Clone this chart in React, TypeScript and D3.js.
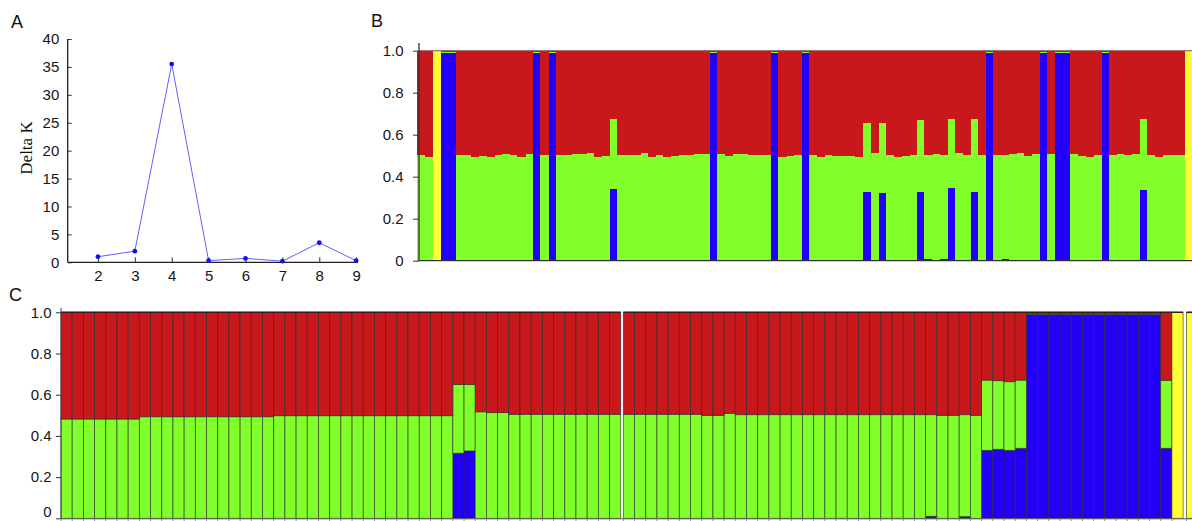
import React, { useEffect, useRef } from 'react';
import * as d3 from 'd3';

// ---- Panel A: Delta K for each K
const kValues = [2, 3, 4, 5, 6, 7, 8, 9];
const deltaK = [1.0, 2.0, 35.5, 0.3, 0.7, 0.2, 3.5, 0.3];
const deltaKTicks = [0, 5, 10, 15, 20, 25, 30, 35, 40];

// ancestry axis ticks (panels B and C)
const shareTicks = [0, 0.2, 0.4, 0.6, 0.8, 1.0];

// clusters, stacked bottom to top
const clusterKeys = ['blue', 'green', 'red', 'yellow'];
const clusterColors: Record<string, string> = {
  blue: '#2300f6',
  green: '#80ff2a',
  red: '#c8181c',
  yellow: '#ffff33',
};

// ---- Panel B: individuals in sample order (red = remainder)
const bBlue = [
  0, 0, 0, 0.99, 0.99, 0, 0, 0, 0, 0,
  0, 0, 0, 0, 0, 0.99, 0, 0.99, 0, 0,
  0, 0, 0, 0, 0, 0.341, 0, 0, 0, 0,
  0, 0, 0, 0, 0, 0, 0, 0, 0.99, 0,
  0, 0, 0, 0, 0, 0, 0.99, 0, 0, 0,
  0.99, 0, 0, 0, 0, 0, 0, 0, 0.329, 0,
  0.321, 0, 0, 0, 0, 0.329, 0.01, 0, 0.01, 0.345,
  0, 0, 0.329, 0, 0.99, 0, 0.01, 0, 0, 0,
  0, 0.99, 0, 0.99, 0.99, 0, 0, 0, 0, 0.99,
  0, 0, 0, 0, 0.337, 0, 0, 0, 0, 0,
  0,
];
const bGreen = [
  0.503, 0.495, 0, 0.006, 0.006, 0.503, 0.503, 0.492, 0.499, 0.495,
  0.503, 0.507, 0.503, 0.495, 0.506, 0.006, 0.503, 0.006, 0.503, 0.503,
  0.506, 0.506, 0.511, 0.492, 0.499, 0.332, 0.503, 0.503, 0.503, 0.511,
  0.492, 0.503, 0.495, 0.5, 0.503, 0.503, 0.506, 0.507, 0.006, 0.506,
  0.499, 0.507, 0.506, 0.503, 0.503, 0.503, 0.006, 0.492, 0.5, 0.503,
  0.006, 0.503, 0.495, 0.503, 0.5, 0.499, 0.497, 0.492, 0.328, 0.511,
  0.336, 0.503, 0.495, 0.499, 0.503, 0.341, 0.493, 0.506, 0.493, 0.328,
  0.511, 0.503, 0.344, 0.503, 0.006, 0.503, 0.493, 0.506, 0.511, 0.499,
  0.506, 0.006, 0.506, 0.006, 0.006, 0.506, 0.5, 0.495, 0.503, 0.006,
  0.503, 0.506, 0.503, 0.506, 0.336, 0.503, 0.492, 0.503, 0.503, 0.503,
  0,
];
const bYellowIdx = [2, 100];

// ---- Panel C: individuals sorted by cluster, in groups
const cGroupSizes = [50, 50, 1];
const cBlue = [
  0, 0, 0, 0, 0, 0, 0, 0, 0, 0,
  0, 0, 0, 0, 0, 0, 0, 0, 0, 0,
  0, 0, 0, 0, 0, 0, 0, 0, 0, 0,
  0, 0, 0, 0, 0, 0.316, 0.327, 0, 0, 0,
  0, 0, 0, 0, 0, 0, 0, 0, 0, 0,
  0, 0, 0, 0, 0, 0, 0, 0, 0, 0,
  0, 0, 0, 0, 0, 0, 0, 0, 0, 0,
  0, 0, 0, 0, 0, 0, 0, 0.01, 0, 0,
  0.008, 0, 0.33, 0.335, 0.33, 0.34, 0.99, 0.99, 0.99, 0.99,
  0.99, 0.99, 0.99, 0.99, 0.99, 0.99, 0.99, 0.99, 0.34, 0,
  0,
];
const cGreen = [
  0.482, 0.482, 0.482, 0.482, 0.482, 0.482, 0.482, 0.493, 0.493, 0.493,
  0.493, 0.493, 0.493, 0.493, 0.493, 0.493, 0.493, 0.493, 0.493, 0.498,
  0.498, 0.498, 0.498, 0.498, 0.498, 0.498, 0.498, 0.498, 0.498, 0.498,
  0.498, 0.498, 0.498, 0.498, 0.498, 0.334, 0.323, 0.517, 0.513, 0.513,
  0.505, 0.505, 0.505, 0.505, 0.505, 0.505, 0.505, 0.505, 0.505, 0.505,
  0.505, 0.505, 0.505, 0.505, 0.505, 0.505, 0.505, 0.5, 0.5, 0.51,
  0.503, 0.503, 0.503, 0.503, 0.503, 0.503, 0.503, 0.503, 0.503, 0.503,
  0.503, 0.503, 0.503, 0.503, 0.503, 0.503, 0.503, 0.493, 0.5, 0.5,
  0.495, 0.5, 0.341, 0.333, 0.333, 0.331, 0.005, 0.005, 0.005, 0.005,
  0.005, 0.005, 0.005, 0.005, 0.005, 0.005, 0.005, 0.005, 0.33, 0,
  0,
];
const cYellowIdx = [99, 100];

const sansFont = '"Liberation Sans", Arial, sans-serif';
const serifFont = '"Liberation Serif", "Times New Roman", serif';

const shareFormat = (d: number) => (d === 0 ? '0' : d3.format('.1f')(d));

function qRows(blue: number[], green: number[], yellowIdx: number[]) {
  return green.map((g, i) => {
    const yellow = yellowIdx.includes(i) ? 1 : 0;
    const b = yellow ? 0 : blue[i];
    const gr = yellow ? 0 : g;
    return { blue: b, green: gr, red: yellow ? 0 : Math.max(0, 1 - b - gr), yellow };
  });
}

function styleAxis(axisG: any, size: number) {
  axisG.selectAll('text').attr('font-family', sansFont).attr('font-size', size).attr('fill', '#151515');
  axisG.selectAll('line').attr('stroke', '#333');
  axisG.select('.domain').remove();
}

const drawDeltaK = (svg: any) => {
  const x = d3.scaleLinear().domain([1.18, 9.05]).range([67.7, 358]);
  const y = d3.scaleLinear().domain([0, 40]).range([262.3, 39]);
  const g = svg.append('g');

  const xAxis = g
    .append('g')
    .attr('transform', `translate(0,${y(0)})`)
    .call(d3.axisBottom(x).tickValues(kValues).tickSizeInner(-5).tickSizeOuter(0).tickPadding(8.5).tickFormat(d3.format('d')));
  styleAxis(xAxis, 15);

  const yAxis = g
    .append('g')
    .attr('transform', `translate(${x.range()[0]},0)`)
    .call(d3.axisLeft(y).tickValues(deltaKTicks).tickSizeInner(-4).tickSizeOuter(0).tickPadding(8.4));
  styleAxis(yAxis, 15);

  // axis lines
  g.append('line').attr('x1', x.range()[0]).attr('x2', x.range()[1]).attr('y1', y(0)).attr('y2', y(0))
    .attr('stroke', '#222').attr('stroke-width', 1.3);
  g.append('line').attr('x1', x.range()[0]).attr('x2', x.range()[0]).attr('y1', y(0)).attr('y2', y(40))
    .attr('stroke', '#222').attr('stroke-width', 1.3);

  const pts = kValues.map((k, i) => [k, deltaK[i]] as [number, number]);
  const line = d3.line<[number, number]>().x(d => x(d[0])).y(d => y(d[1]));
  g.append('path').attr('d', line(pts)).attr('fill', 'none').attr('stroke', '#6060ff').attr('stroke-width', 1);
  g.selectAll('circle.pt').data(pts).enter().append('circle')
    .attr('class', 'pt')
    .attr('cx', d => x(d[0]))
    .attr('cy', d => y(d[1]))
    .attr('r', 2.4)
    .attr('fill', '#1212ee');

  g.append('text')
    .attr('transform', 'translate(32,148) rotate(-90)')
    .attr('text-anchor', 'middle')
    .attr('font-family', serifFont)
    .attr('font-size', 17)
    .attr('fill', '#111')
    .text('Delta K');

  g.append('text').attr('x', 11).attr('y', 28).attr('font-family', sansFont).attr('font-size', 18).attr('fill', '#111').text('A');
};

const drawPanelB = (svg: any) => {
  const rows = qRows(bBlue, bGreen, bYellowIdx);
  const y = d3.scaleLinear().domain([0, 1]).range([260.7, 50.7]);
  const x = d3.scaleBand<number>().domain(d3.range(rows.length)).range([417.4, 417.4 + 7.68 * rows.length]);
  const g = svg.append('g').attr('shape-rendering', 'crispEdges');

  const layers = d3.stack<any>().keys(clusterKeys)(rows);
  layers.forEach(layer => {
    g.append('g')
      .selectAll('rect')
      .data(layer.map((d, i) => ({ d, i })).filter(o => o.d[1] - o.d[0] > 0))
      .enter()
      .append('rect')
      .attr('x', o => x(o.i))
      .attr('width', x.bandwidth() + 0.6)
      .attr('y', o => y(o.d[1]))
      .attr('height', o => y(o.d[0]) - y(o.d[1]))
      .attr('fill', clusterColors[layer.key]);
  });

  const frame = svg.append('g');
  frame.append('line').attr('x1', 419).attr('x2', 1192).attr('y1', y(1)).attr('y2', y(1)).attr('stroke', '#8d5050').attr('stroke-width', 1);
  frame.append('line').attr('x1', 419).attr('x2', 1192).attr('y1', y(0)).attr('y2', y(0)).attr('stroke', '#333').attr('stroke-width', 1.2);

  const yAxis = frame.append('g').attr('transform', 'translate(419,0)')
    .call(d3.axisLeft(y).tickValues(shareTicks).tickSize(6).tickPadding(9.5).tickFormat(shareFormat as any));
  styleAxis(yAxis, 15);
  frame.append('line').attr('x1', 419).attr('x2', 419).attr('y1', 43).attr('y2', y(0)).attr('stroke', '#333').attr('stroke-width', 1.3);

  frame.append('text').attr('x', 371).attr('y', 27).attr('font-family', sansFont).attr('font-size', 18).attr('fill', '#111').text('B');
};

const drawPanelC = (svg: any) => {
  const rows = qRows(cBlue, cGreen, cYellowIdx);
  const y = d3.scaleLinear().domain([0, 1]).range([518.3, 312.3]);
  const slot = d3.scaleLinear().domain([0, 100]).range([61, 1180.5]);
  const gaps = [0, 2.6, 6];
  const groupOf = (i: number) => {
    let acc = 0;
    for (let k = 0; k < cGroupSizes.length; k++) {
      acc += cGroupSizes[k];
      if (i < acc) return k;
    }
    return cGroupSizes.length - 1;
  };
  const xPos = (i: number) => slot(i) + gaps[groupOf(i)];
  const w = slot(1) - slot(0);
  const g = svg.append('g');

  const layers = d3.stack<any>().keys(clusterKeys)(rows);
  layers.forEach(layer => {
    g.append('g')
      .selectAll('rect')
      .data(layer.map((d, i) => ({ d, i })).filter(o => o.d[1] - o.d[0] > 0))
      .enter()
      .append('rect')
      .attr('x', o => xPos(o.i))
      .attr('width', w)
      .attr('y', o => y(o.d[1]))
      .attr('height', o => y(o.d[0]) - y(o.d[1]))
      .attr('fill', clusterColors[layer.key])
      .attr('stroke', '#2a2a2a')
      .attr('stroke-opacity', 0.75)
      .attr('stroke-width', 0.8);
  });

  // thicker top edge of each group
  let start = 0;
  cGroupSizes.forEach(n => {
    g.append('line')
      .attr('x1', xPos(start)).attr('x2', xPos(start + n - 1) + w)
      .attr('y1', y(1)).attr('y2', y(1))
      .attr('stroke', '#3a1a1a').attr('stroke-width', 1.6);
    start += n;
  });

  // bottom axis line and small ticks at bar edges
  g.append('line').attr('x1', 61).attr('x2', 1192).attr('y1', y(0) + 0.5).attr('y2', y(0) + 0.5).attr('stroke', '#555').attr('stroke-width', 1);
  g.append('g').selectAll('line')
    .data(d3.range(rows.length))
    .enter()
    .append('line')
    .attr('x1', i => xPos(i)).attr('x2', i => xPos(i))
    .attr('y1', y(0)).attr('y2', y(0) + 4)
    .attr('stroke', '#777').attr('stroke-width', 0.8);

  const yAxis = g.append('g').attr('transform', 'translate(61,0)')
    .call(d3.axisLeft(y).tickValues(shareTicks).tickSize(5).tickPadding(4.5).tickFormat(shareFormat as any));
  styleAxis(yAxis, 15);
  // keep the bottom "0" inside the picture
  yAxis.selectAll('text').filter((d: number) => d === 0).attr('dy', '-0.1em');
  g.append('line').attr('x1', 61).attr('x2', 61).attr('y1', 308).attr('y2', y(0)).attr('stroke', '#444').attr('stroke-width', 1);

  g.append('text').attr('x', 9).attr('y', 301).attr('font-family', sansFont).attr('font-size', 18).attr('fill', '#111').text('C');
};

const App = () => {
  const ref = useRef<SVGSVGElement>(null);

  useEffect(() => {
    const svg = d3.select(ref.current);
    svg.selectAll('*').remove();
    drawDeltaK(svg);
    drawPanelB(svg);
    drawPanelC(svg);
  }, []);

  return (
    <svg
      ref={ref}
      width={1192}
      height={521}
      style={{ position: 'absolute', left: 0, top: 0, background: '#fff', display: 'block' }}
    />
  );
};

export default App;
